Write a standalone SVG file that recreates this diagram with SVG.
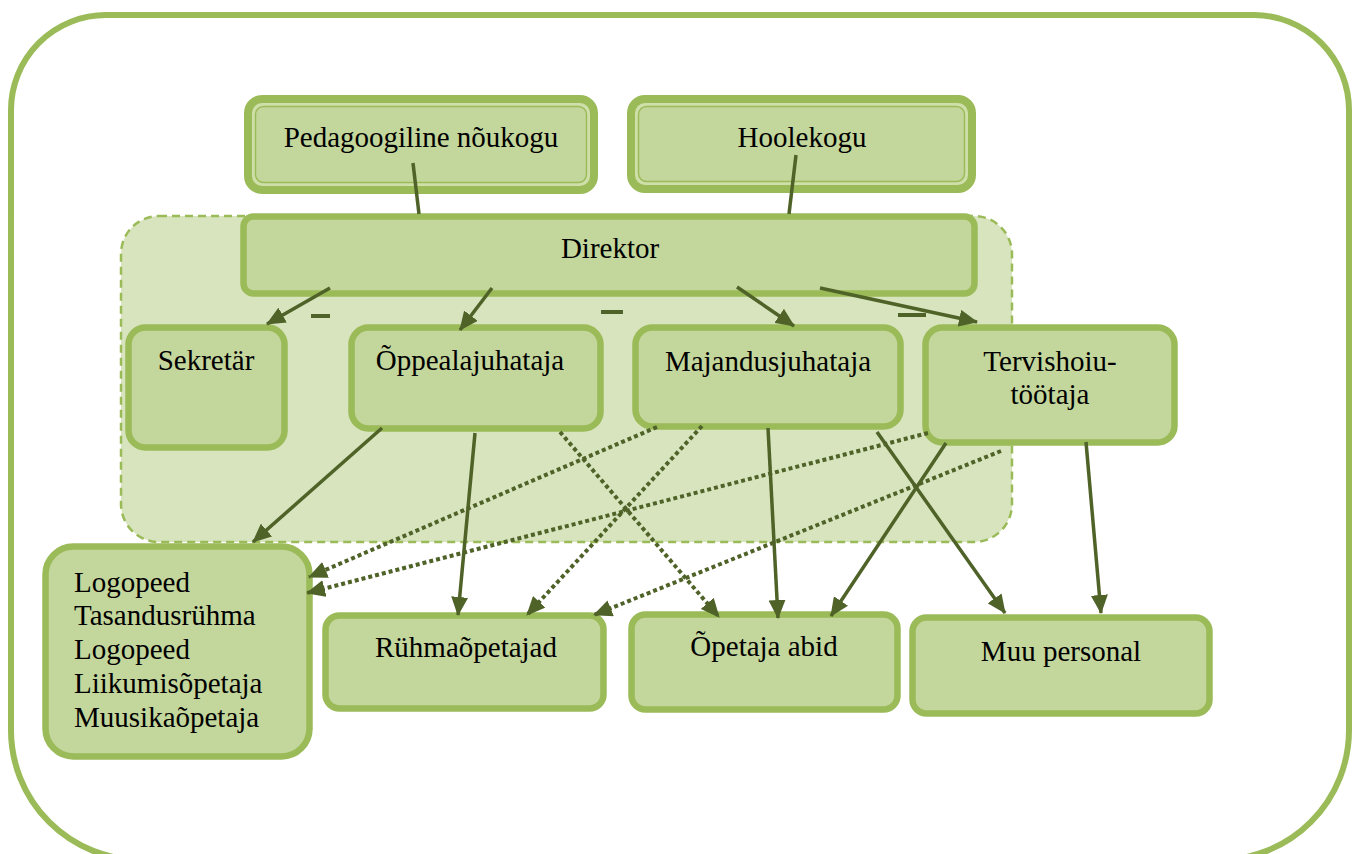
<svg xmlns="http://www.w3.org/2000/svg" width="1352" height="854" viewBox="0 0 1352 854">
<defs>
<style>
.frame{fill:none;stroke:#9bbb59;stroke-width:6}
.group{fill:#d7e4bd;stroke:#9bbb59;stroke-width:2.5;stroke-dasharray:8 5}
.box{fill:#c3d69b;stroke:#9bbb59;stroke-width:6.5}
.outer{fill:#cfdfaa;stroke:#9bbb59;stroke-width:8}
.inner{fill:#c3d69b;stroke:#9bbb59;stroke-width:1.5}
.t{font-family:"Liberation Serif","Times New Roman",serif;font-size:29px;fill:#000}
.c{text-anchor:middle}
.ln{stroke:#4f6228;stroke-width:3.5;fill:none}
.dot{stroke:#4f6228;stroke-width:4;fill:none;stroke-dasharray:4 3}
.dash{stroke:#4f6228;stroke-width:4}
</style>
<marker id="ah" markerUnits="userSpaceOnUse" markerWidth="19" markerHeight="17" refX="18" refY="8.5" orient="auto">
<path d="M0,0 L19,8.5 L0,17 z" fill="#4f6228"/>
</marker>
</defs>
<path class="frame" d="M106,15 H1254 A95,95 0 0 1 1349,110 V730 A130,130 0 0 1 1219,860 H141 A130,130 0 0 1 11,730 V110 A95,95 0 0 1 106,15 Z"/>
<rect id="container" class="group" x="121" y="216" width="891" height="326" rx="38"/>
<g id="n-pedagoogiline">
<rect class="outer" x="248" y="99" width="346" height="91" rx="14"/>
<rect class="inner" x="255.5" y="106.5" width="331" height="76" rx="8"/>
<text class="t c" x="421" y="147">Pedagoogiline nõukogu</text>
</g>
<g id="n-hoolekogu">
<rect class="outer" x="631" y="99" width="341" height="90" rx="14"/>
<rect class="inner" x="638.5" y="106.5" width="326" height="75" rx="8"/>
<text class="t c" x="802" y="147">Hoolekogu</text>
</g>
<g id="n-direktor">
<rect class="box" x="243.5" y="216.5" width="731" height="77" rx="10"/>
<text class="t c" x="610" y="258">Direktor</text>
</g>
<g id="n-sekretar">
<rect class="box" x="128.5" y="327.5" width="156" height="120" rx="17"/>
<text class="t c" x="206" y="370">Sekretär</text>
</g>
<g id="n-oppealajuhataja">
<rect class="box" x="351.5" y="327.5" width="249" height="101" rx="17"/>
<text class="t c" x="470" y="370">Õppealajuhataja</text>
</g>
<g id="n-majandusjuhataja">
<rect class="box" x="635.5" y="327.5" width="265" height="99" rx="17"/>
<text class="t c" x="768" y="371">Majandusjuhataja</text>
</g>
<g id="n-tervishoiu">
<rect class="box" x="925.5" y="327.5" width="249" height="115" rx="17"/>
<text class="t c" x="1050" y="371">Tervishoiu-</text>
<text class="t c" x="1050" y="404">töötaja</text>
</g>
<g id="n-logopeed">
<rect class="box" x="45.5" y="546.5" width="264" height="210" rx="28"/>
<text class="t" x="74" y="592">Logopeed</text>
<text class="t" x="74" y="625">Tasandusrühma</text>
<text class="t" x="74" y="659">Logopeed</text>
<text class="t" x="74" y="693">Liikumisõpetaja</text>
<text class="t" x="74" y="727">Muusikaõpetaja</text>
</g>
<g id="n-ruhmaopetajad">
<rect class="box" x="325.5" y="615.5" width="278" height="93" rx="14"/>
<text class="t c" x="466" y="657">Rühmaõpetajad</text>
</g>
<g id="n-opetaja-abid">
<rect class="box" x="631.5" y="614.5" width="266" height="95" rx="14"/>
<text class="t c" x="764" y="656">Õpetaja abid</text>
</g>
<g id="n-muu-personal">
<rect class="box" x="912.5" y="617.5" width="297" height="96" rx="14"/>
<text class="t c" x="1061" y="661">Muu personal</text>
</g>
<g id="connectors">
<line class="ln" x1="413" y1="163" x2="419" y2="214"/>
<line class="ln" x1="796" y1="155" x2="789" y2="214"/>
<line class="ln" x1="330" y1="288" x2="267" y2="324" marker-end="url(#ah)"/>
<line class="ln" x1="492" y1="288" x2="460" y2="330" marker-end="url(#ah)"/>
<line class="ln" x1="737" y1="287" x2="794" y2="326" marker-end="url(#ah)"/>
<line class="ln" x1="820" y1="288" x2="977" y2="322" marker-end="url(#ah)"/>
<line class="ln" x1="382" y1="428" x2="253" y2="542" marker-end="url(#ah)"/>
<line class="ln" x1="475" y1="433" x2="458" y2="615" marker-end="url(#ah)"/>
<line class="dot" x1="560" y1="432" x2="719" y2="617" marker-end="url(#ah)"/>
<line class="dot" x1="657" y1="427" x2="309" y2="577" marker-end="url(#ah)"/>
<line class="dot" x1="702" y1="426" x2="527" y2="615" marker-end="url(#ah)"/>
<line class="ln" x1="768" y1="428" x2="778" y2="618" marker-end="url(#ah)"/>
<line class="ln" x1="877" y1="432" x2="1005" y2="613" marker-end="url(#ah)"/>
<line class="dot" x1="928" y1="433" x2="307" y2="593" marker-end="url(#ah)"/>
<line class="dot" x1="1001" y1="451" x2="594" y2="615" marker-end="url(#ah)"/>
<line class="ln" x1="946" y1="443" x2="831" y2="616" marker-end="url(#ah)"/>
<line class="ln" x1="1086" y1="442" x2="1101" y2="613" marker-end="url(#ah)"/>
<line class="dash" x1="311" y1="316" x2="330" y2="316"/>
<line class="dash" x1="601" y1="312" x2="623" y2="312"/>
<line class="dash" x1="898" y1="315" x2="926" y2="315"/>
</g>
</svg>
